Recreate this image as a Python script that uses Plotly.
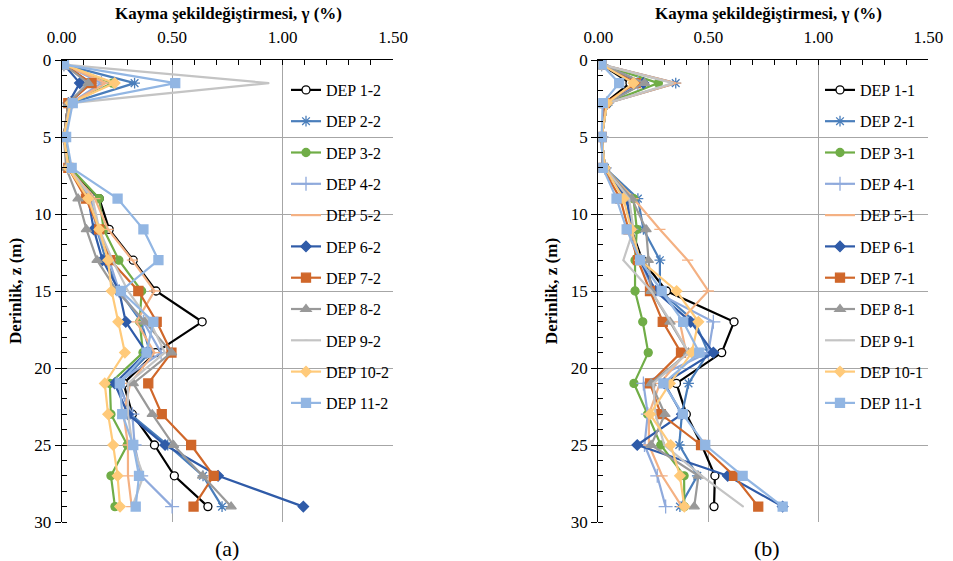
import plotly.graph_objects as go

depths = [0.3, 1.5, 2.8, 5, 7, 9, 11, 13, 15, 17, 19, 21, 23, 25, 27, 29]

names_a = ["DEP 1-2", "DEP 2-2", "DEP 3-2", "DEP 4-2", "DEP 5-2", "DEP 6-2",
           "DEP 7-2", "DEP 8-2", "DEP 9-2", "DEP 10-2", "DEP 11-2"]
names_b = ["DEP 1-1", "DEP 2-1", "DEP 3-1", "DEP 4-1", "DEP 5-1", "DEP 6-1",
           "DEP 7-1", "DEP 8-1", "DEP 9-1", "DEP 10-1", "DEP 11-1"]

# Panel (a): shear strain (%) per depth
dep1_2 = [0.01, 0.13, 0.03, 0.01, 0.03, 0.17, 0.215, 0.324, 0.427, 0.636, 0.425, 0.28, 0.32, 0.42, 0.51, 0.662]
dep2_2 = [0.01, 0.33, 0.04, 0.01, 0.03, 0.13, 0.16, 0.20, 0.26, 0.36, 0.40, 0.26, 0.31, 0.48, 0.64, 0.726]
dep3_2 = [0.01, 0.23, 0.04, 0.01, 0.04, 0.17, 0.19, 0.259, 0.362, 0.353, 0.368, 0.218, 0.223, 0.297, 0.223, 0.241]
dep4_2 = [0.01, 0.18, 0.04, 0.01, 0.03, 0.13, 0.16, 0.215, 0.26, 0.37, 0.45, 0.25, 0.32, 0.33, 0.36, 0.50]
dep5_2 = [0.01, 0.20, 0.04, 0.01, 0.03, 0.15, 0.21, 0.32, 0.42, 0.338, 0.42, 0.31, 0.28, 0.30, 0.30, 0.317]
dep6_2 = [0.01, 0.082, 0.03, 0.01, 0.03, 0.12, 0.145, 0.185, 0.26, 0.29, 0.384, 0.24, 0.30, 0.468, 0.708, 1.094]
dep7_2 = [0.01, 0.135, 0.03, 0.01, 0.03, 0.11, 0.17, 0.22, 0.347, 0.43, 0.497, 0.392, 0.453, 0.586, 0.688, 0.597]
dep8_2 = [0.01, 0.12, 0.03, 0.01, 0.02, 0.074, 0.112, 0.16, 0.25, 0.377, 0.497, 0.324, 0.41, 0.506, 0.638, 0.767]
dep9_2 = [0.01, 0.938, 0.04, 0.01, 0.03, 0.14, 0.17, 0.23, 0.30, 0.40, 0.467, 0.30, 0.30, 0.32, 0.37, 0.32]
dep10_2 = [0.01, 0.24, 0.04, 0.01, 0.03, 0.12, 0.17, 0.21, 0.226, 0.256, 0.286, 0.195, 0.21, 0.233, 0.253, 0.264]
dep11_2 = [0.01, 0.514, 0.05, 0.02, 0.045, 0.253, 0.37, 0.438, 0.268, 0.415, 0.384, 0.263, 0.274, 0.324, 0.35, 0.335]

# Panel (b)
dep1_1 = [0.015, 0.144, 0.03, 0.015, 0.02, 0.13, 0.15, 0.20, 0.31, 0.617, 0.561, 0.355, 0.40, 0.47, 0.53, 0.526]
dep2_1 = [0.015, 0.352, 0.04, 0.015, 0.03, 0.18, 0.205, 0.28, 0.28, 0.44, 0.50, 0.41, 0.38, 0.368, 0.45, 0.371]
dep3_1 = [0.015, 0.273, 0.04, 0.015, 0.03, 0.16, 0.175, 0.167, 0.167, 0.202, 0.227, 0.162, 0.224, 0.284, 0.39, 0.391]
dep4_1 = [0.015, 0.18, 0.04, 0.015, 0.03, 0.13, 0.15, 0.19, 0.25, 0.523, 0.50, 0.205, 0.225, 0.21, 0.268, 0.306]
dep5_1 = [0.015, 0.352, 0.04, 0.015, 0.03, 0.16, 0.28, 0.406, 0.50, 0.37, 0.40, 0.28, 0.23, 0.23, 0.29, 0.38]
dep6_1 = [0.015, 0.205, 0.04, 0.015, 0.03, 0.13, 0.15, 0.19, 0.26, 0.42, 0.523, 0.30, 0.38, 0.177, 0.588, 0.838]
dep7_1 = [0.015, 0.17, 0.03, 0.015, 0.02, 0.10, 0.137, 0.18, 0.235, 0.293, 0.376, 0.235, 0.284, 0.467, 0.617, 0.727]
dep8_1 = [0.015, 0.21, 0.04, 0.015, 0.03, 0.152, 0.217, 0.227, 0.24, 0.326, 0.41, 0.24, 0.303, 0.24, 0.455, 0.436]
dep9_1 = [0.015, 0.34, 0.04, 0.015, 0.03, 0.14, 0.16, 0.114, 0.24, 0.33, 0.41, 0.25, 0.26, 0.30, 0.47, 0.659]
dep10_1 = [0.015, 0.16, 0.04, 0.015, 0.03, 0.114, 0.15, 0.19, 0.356, 0.455, 0.425, 0.326, 0.235, 0.329, 0.371, 0.391]
dep11_1 = [0.015, 0.095, 0.02, 0.015, 0.02, 0.083, 0.129, 0.19, 0.288, 0.386, 0.459, 0.296, 0.384, 0.486, 0.656, 0.838]

series_a = [dep1_2, dep2_2, dep3_2, dep4_2, dep5_2, dep6_2, dep7_2, dep8_2, dep9_2, dep10_2, dep11_2]
series_b = [dep1_1, dep2_1, dep3_1, dep4_1, dep5_1, dep6_1, dep7_1, dep8_1, dep9_1, dep10_1, dep11_1]

x_title = "<b>Kayma şekildeğiştirmesi, γ (%)</b>"
y_title = "<b>Derinlik, z (m)</b>"

styles = [
    dict(color="#000000", symbol="circle", fill="#ffffff", size=8),
    dict(color="#4A7EBB", symbol="asterisk-open", fill="#4A7EBB", size=9),
    dict(color="#70AD47", symbol="circle", fill="#70AD47", size=8),
    dict(color="#8FAADC", symbol="cross-thin-open", fill="#8FAADC", size=10),
    dict(color="#F4B183", symbol="line-ew-open", fill="#F4B183", size=8),
    dict(color="#2F5BA8", symbol="diamond", fill="#2F5BA8", size=8),
    dict(color="#D0672A", symbol="square", fill="#D0672A", size=9),
    dict(color="#999999", symbol="triangle-up", fill="#999999", size=9),
    dict(color="#C4C4C4", symbol="line-ew-open", fill="#C4C4C4", size=1),
    dict(color="#FFCA7A", symbol="diamond", fill="#FFCA7A", size=8),
    dict(color="#92B6E3", symbol="square", fill="#92B6E3", size=9),
]

font = "Times New Roman, Liberation Serif, DejaVu Serif, serif"
fig = go.Figure()

for panel, (names, series, xa, ya, lg) in enumerate([
        (names_a, series_a, "x", "y", "legend"),
        (names_b, series_b, "x2", "y2", "legend2")]):
    for i, (nm, vals) in enumerate(zip(names, series)):
        st = styles[i]
        fig.add_trace(go.Scatter(
            x=vals, y=depths, name=nm, mode="lines+markers",
            xaxis=xa, yaxis=ya, legend=lg, legendgroup=f"{lg}{i}",
            line=dict(color=st["color"], width=2.2),
            marker=dict(symbol=st["symbol"], size=st["size"], color=st["fill"],
                        line=dict(color=st["color"], width=1.3)),
        ))

W, H = 953, 561
def dx(a, b):
    return [a / W, b / W]
def dy(top, bot):
    return [1 - bot / H, 1 - top / H]

xcommon = dict(range=[0, 1.5], dtick=0.5, tickformat=".2f", side="top",
               showgrid=True, gridcolor="#A6A6A6", gridwidth=1.3,
               showline=True, linecolor="#000000", linewidth=1.3,
               ticks="inside", ticklen=5, tickcolor="#000000", ticklabelstandoff=9,
               minor=dict(dtick=0.1, ticks="inside", ticklen=5, tickcolor="#000000", showgrid=False),
               tickfont=dict(family=font, size=17, color="#000000"),
               zeroline=False, fixedrange=True, automargin=False)
ycommon = dict(range=[30, 0], dtick=5,
               showgrid=True, gridcolor="#A6A6A6", gridwidth=1.3,
               showline=True, linecolor="#000000", linewidth=1.3,
               ticks="outside", ticklen=6, tickcolor="#000000",
               minor=dict(dtick=1, ticks="inside", ticklen=5, tickcolor="#000000", showgrid=False),
               tickfont=dict(family=font, size=17, color="#000000"),
               zeroline=False, fixedrange=True, automargin=False)

title_y = dict(text=y_title, font=dict(family=font, size=17, color="#000"), standoff=8)

leg_common = dict(xanchor="left", yanchor="top", bgcolor="rgba(0,0,0,0)",
                  font=dict(family=font, size=16, color="#000"),
                  tracegroupgap=7.5, itemwidth=30, traceorder="grouped")

ann = []
for cx, lab in [(227, "(a)"), (767, "(b)")]:
    ann.append(dict(text=lab, x=cx / W, y=1 - 548 / H, xref="paper", yref="paper",
                    xanchor="center", yanchor="middle",
                    showarrow=False, font=dict(family=font, size=22, color="#000")))
    ann.append(dict(text=x_title, x=(cx + 1) / W, y=1 - 13 / H, xref="paper", yref="paper",
                    xanchor="center", yanchor="middle",
                    showarrow=False, font=dict(family=font, size=17, color="#000")))

fig.update_layout(
    width=W, height=H, margin=dict(l=0, r=0, t=0, b=0),
    paper_bgcolor="#ffffff", plot_bgcolor="rgba(0,0,0,0)",
    font=dict(family=font, color="#000000"),
    xaxis=dict(domain=dx(61.7, 393), anchor="y", **xcommon),
    yaxis=dict(domain=dy(60, 522), anchor="x", title=title_y, **ycommon),
    xaxis2=dict(domain=dx(598.3, 928.3), anchor="y2", **xcommon),
    yaxis2=dict(domain=dy(60, 522), anchor="x2", title=title_y, **ycommon),
    legend=dict(x=286 / W, y=1 - 73 / H, **leg_common),
    legend2=dict(x=820 / W, y=1 - 73 / H, **leg_common),
    showlegend=True,
    annotations=ann,
)

fig.write_html("out.html", config={"displayModeBar": False},
               post_script="document.body.style.margin='0';document.body.style.overflow='hidden';")
